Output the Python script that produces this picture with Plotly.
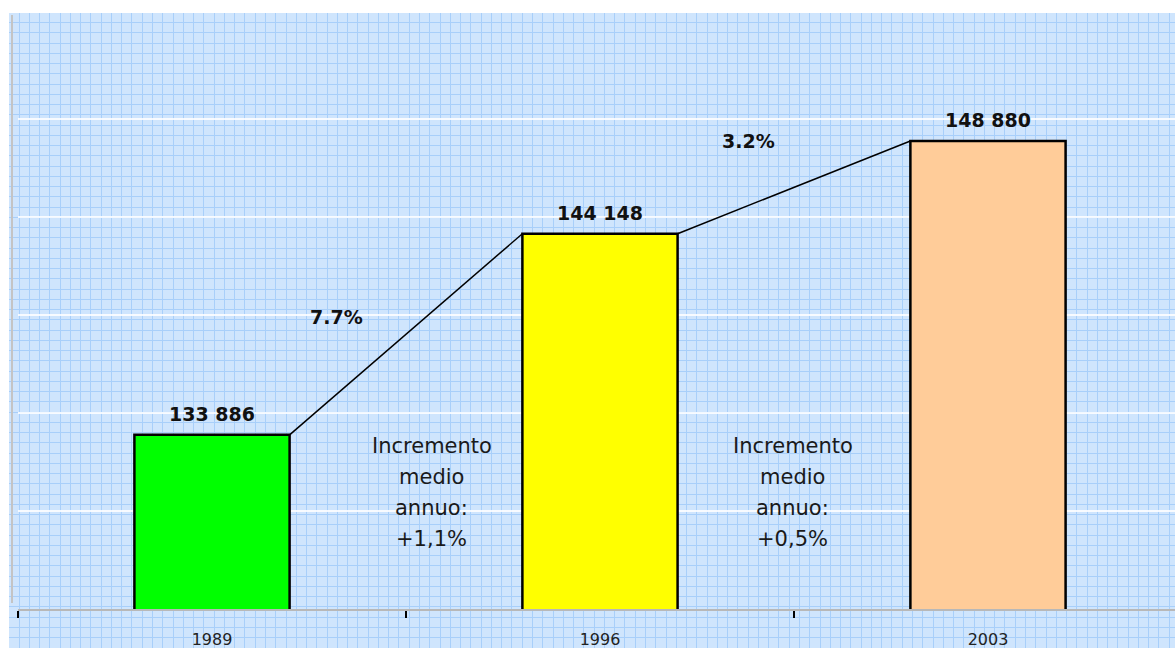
import plotly.graph_objects as go

# ---- data ----
years = ["1989", "1996", "2003"]
values = [133886, 144148, 148880]
bar_colors = ["#00FF00", "#FFFF00", "#FFCC99"]
growth_labels = ["7.7%", "3.2%"]
annual_labels = ["+1,1%", "+0,5%"]

W, H = 1175, 648
ML, MT = 9, 13
PW, PH = W - ML, H - MT

bar_w = 0.4
xs = list(range(len(years)))

fig = go.Figure()

# invisible trace for background grid axes
fig.add_trace(go.Scatter(x=[None], y=[None], xaxis="x", yaxis="y", showlegend=False, hoverinfo="skip"))

# bars
fig.add_trace(go.Bar(
    x=xs, y=values, width=bar_w, xaxis="x2", yaxis="y2",
    marker=dict(color=bar_colors, line=dict(color="black", width=2.5)),
    showlegend=False, hoverinfo="skip"))

# connecting line between bar tops
lx, ly = [], []
for i in range(len(values) - 1):
    lx += [xs[i] + bar_w / 2, xs[i + 1] - bar_w / 2, None]
    ly += [values[i], values[i + 1], None]
fig.add_trace(go.Scatter(x=lx, y=ly, mode="lines", xaxis="x2", yaxis="y2",
                         line=dict(color="black", width=1.5),
                         showlegend=False, hoverinfo="skip", connectgaps=False))

annotations = []
# value labels above bars
for x, v in zip(xs, values):
    annotations.append(dict(x=x, y=v, xref="x2", yref="y2", text="<b>%s</b>" % f"{v:,}".replace(",", " "),
                            showarrow=False, yanchor="bottom", yshift=8,
                            font=dict(family="DejaVu Sans", size=19, color="#111111")))
# growth labels
gpos = [(0.321, 139900), (1.383, 148860)]
for (gx, gy), t in zip(gpos, growth_labels):
    annotations.append(dict(x=gx, y=gy, xref="x2", yref="y2", text="<b>%s</b>" % t,
                            showarrow=False, font=dict(family="DejaVu Sans", size=19, color="#111111")))
# annual increment texts
apos = [(0.567, 130950), (1.497, 130950)]
for (ax_, ay), t in zip(apos, annual_labels):
    lines = ["Incremento", "medio", "annuo:", t]
    for k, line in enumerate(lines):
        annotations.append(dict(x=ax_, y=ay, xref="x2", yref="y2", text=line, showarrow=False,
                                yshift=(1.5 - k) * 31,
                                font=dict(family="DejaVu Sans", size=21, color="#1a1a1a")))

shapes = [
    dict(type="rect", xref="paper", yref="paper", x0=0, x1=1, y0=0, y1=1,
         fillcolor="#cfe5fd", line=dict(width=0), layer="below"),
    dict(type="line", xref="paper", yref="paper",
         x0=(12 - ML) / PW, x1=(12 - ML) / PW, y0=(H - 603) / PH, y1=(H - 15) / PH,
         line=dict(color="#c4c4c4", width=2), layer="above"),
]

fig.update_layout(
    width=W, height=H,
    margin=dict(l=ML, r=0, t=MT, b=0, pad=0, autoexpand=False),
    paper_bgcolor="white", plot_bgcolor="rgba(0,0,0,0)",
    showlegend=False,
    # background fine-grid axes
    xaxis=dict(domain=[0, 1], range=[0, PW], showgrid=True, gridcolor="#a8cffa", gridwidth=1,
               tick0=10, dtick=10.27, showticklabels=False, zeroline=False, showline=False,
               fixedrange=True, ticks="", automargin=False),
    yaxis=dict(domain=[0, 1], range=[PH, 0], showgrid=True, gridcolor="#a8cffa", gridwidth=1,
               tick0=9.7, dtick=10.25, showticklabels=False, zeroline=False, showline=False,
               fixedrange=True, ticks="", automargin=False),
    # main chart axes
    xaxis2=dict(domain=[(18 - ML) / PW, 1], anchor="y2", range=[-0.5, 2.482],
                tickmode="array", tickvals=xs, ticktext=years, ticks="",
                showgrid=False, zeroline=False, automargin=False,
                showline=True, linecolor="#b8b8b8", linewidth=2,
                ticklabelstandoff=15,
                tickfont=dict(family="DejaVu Sans", size=16, color="#222222"),
                minor=dict(tickmode="array", tickvals=[-0.5, 0.5, 1.5, 2.5], ticks="outside",
                           ticklen=7, tickwidth=2, tickcolor="black", showgrid=False)),
    yaxis2=dict(domain=[(H - 609) / PH, (H - 21) / PH], anchor="x2", range=[125000, 155000],
                tick0=125000, dtick=5000, showgrid=True, gridcolor="rgba(255,255,255,0.85)", gridwidth=2,
                showticklabels=False, zeroline=False, showline=False, ticks="", automargin=False),
    annotations=annotations,
    shapes=shapes,
)

fig.write_html("out.html", config={"displayModeBar": False},
               post_script="document.body.style.margin='0';document.body.style.overflow='hidden';")
